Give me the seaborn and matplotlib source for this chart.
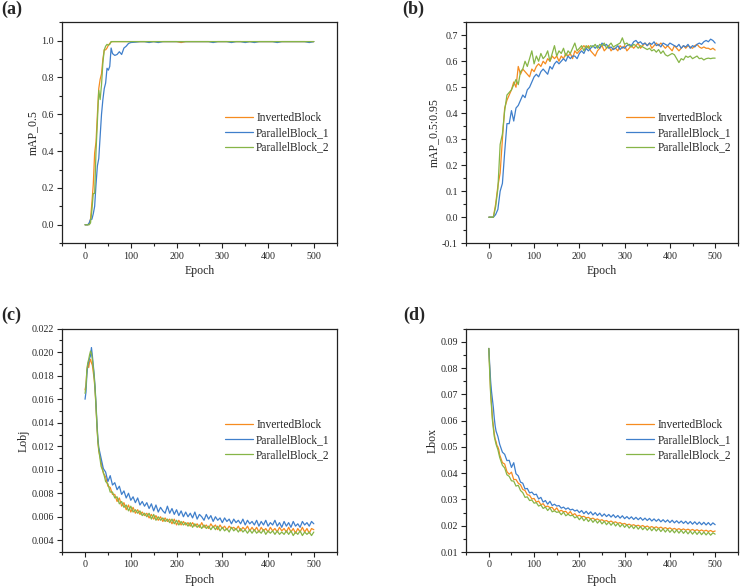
import numpy as np
import pandas as pd
import matplotlib
matplotlib.use('Agg')
import matplotlib.pyplot as plt
from matplotlib.ticker import MultipleLocator
import seaborn as sns

models = ["InvertedBlock", "ParallelBlock_1", "ParallelBlock_2"]
colors = {"InvertedBlock": "#F68B1F", "ParallelBlock_1": "#3F7FCB", "ParallelBlock_2": "#86B547"}

# ---- (a) mAP_0.5 ----
epochs_a = list(range(0, 61, 3)) + list(range(65, 101, 5)) + list(range(110, 501, 10))
map50_inv = [0, 0, 0, 0.005, 0.03, 0.12, 0.22, 0.39, 0.45, 0.60, 0.74, 0.79, 0.82, 0.90, 0.95, 0.95, 0.96, 0.975, 0.985, 0.993, 0.995,
             0.995, 0.995, 0.995, 0.995, 0.995, 0.995, 0.995, 0.995,
             0.995, 0.995, 0.995, 0.995, 0.995, 0.995, 0.995, 0.995, 0.995, 0.995, 0.99, 0.995, 0.995, 0.995, 0.995, 0.995, 0.995, 0.995, 0.995, 0.995,
             0.995, 0.995, 0.995, 0.995, 0.995, 0.995, 0.995, 0.995, 0.995, 0.995, 0.995, 0.995, 0.995, 0.995, 0.995, 0.995, 0.995, 0.995, 0.995, 0.995]
map50_p1 = [0, 0, 0, 0.01, 0.03, 0.03, 0.06, 0.10, 0.22, 0.32, 0.36, 0.48, 0.60, 0.68, 0.74, 0.77, 0.85, 0.84, 0.86, 0.96, 0.93,
            0.92, 0.925, 0.94, 0.925, 0.96, 0.97, 0.985, 0.99,
            0.992, 0.995, 0.995, 0.99, 0.995, 0.99, 0.995, 0.995, 0.995, 0.995, 0.995, 0.995, 0.995, 0.995, 0.995, 0.995, 0.995, 0.99, 0.995, 0.995,
            0.995, 0.99, 0.995, 0.995, 0.99, 0.995, 0.99, 0.995, 0.995, 0.995, 0.995, 0.99, 0.995, 0.995, 0.995, 0.995, 0.995, 0.995, 0.99, 0.995]
map50_p2 = [0, 0, 0, 0, 0.01, 0.08, 0.17, 0.17, 0.40, 0.56, 0.73, 0.68, 0.76, 0.88, 0.95, 0.97, 0.98, 0.975, 0.98, 0.995, 0.995,
            0.995, 0.995, 0.995, 0.995, 0.995, 0.995, 0.995, 0.995,
            0.995, 0.995, 0.995, 0.995, 0.995, 0.995, 0.995, 0.995, 0.995, 0.995, 0.995, 0.995, 0.995, 0.995, 0.995, 0.995, 0.995, 0.995, 0.995, 0.995,
            0.995, 0.995, 0.995, 0.995, 0.995, 0.995, 0.995, 0.995, 0.995, 0.995, 0.995, 0.995, 0.995, 0.995, 0.995, 0.995, 0.995, 0.995, 0.995, 0.995]

# ---- (b) mAP_0.5:0.95 ----
epochs_b = list(range(0, 501, 5))
map95_inv = [0, 0, 0, 0.05, 0.12, 0.17, 0.30, 0.42, 0.45, 0.47, 0.49, 0.52, 0.50, 0.58, 0.55, 0.57, 0.56, 0.55, 0.54, 0.57,
             0.56, 0.58, 0.59, 0.58, 0.60, 0.59, 0.61, 0.60, 0.62, 0.61, 0.62, 0.60, 0.62, 0.61, 0.63, 0.62, 0.63, 0.61, 0.64, 0.63,
             0.64, 0.65, 0.66, 0.65, 0.66, 0.64, 0.63, 0.62, 0.64, 0.65, 0.66, 0.64, 0.65, 0.66, 0.64, 0.65, 0.65, 0.64, 0.66, 0.65,
             0.66, 0.64, 0.65, 0.66, 0.65, 0.66, 0.67, 0.65, 0.66, 0.67, 0.66, 0.67, 0.65, 0.66, 0.67, 0.66, 0.67, 0.66, 0.65, 0.66,
             0.65, 0.64, 0.66, 0.65, 0.64, 0.65, 0.66, 0.65, 0.66, 0.655, 0.65, 0.66, 0.665, 0.655, 0.65, 0.655, 0.65, 0.65, 0.645, 0.65,
             0.643]
map95_p1 = [0, 0, 0, 0.01, 0.03, 0.10, 0.13, 0.25, 0.36, 0.36, 0.41, 0.37, 0.42, 0.43, 0.45, 0.47, 0.46, 0.49, 0.50, 0.52,
            0.54, 0.55, 0.54, 0.56, 0.57, 0.56, 0.55, 0.58, 0.57, 0.59, 0.60, 0.59, 0.60, 0.61, 0.60, 0.62, 0.61, 0.62, 0.62, 0.61,
            0.63, 0.64, 0.63, 0.65, 0.64, 0.65, 0.66, 0.65, 0.66, 0.65, 0.67, 0.66, 0.665, 0.65, 0.655, 0.645, 0.65, 0.66, 0.645, 0.655,
            0.65, 0.66, 0.665, 0.66, 0.675, 0.68, 0.67, 0.675, 0.665, 0.67, 0.66, 0.67, 0.665, 0.675, 0.66, 0.665, 0.655, 0.67, 0.665, 0.66,
            0.67, 0.665, 0.66, 0.655, 0.665, 0.65, 0.66, 0.655, 0.665, 0.65, 0.66, 0.655, 0.665, 0.67, 0.665, 0.675, 0.68, 0.675, 0.685, 0.68,
            0.67]
map95_p2 = [0, 0, 0, 0.04, 0.11, 0.28, 0.32, 0.41, 0.47, 0.48, 0.49, 0.51, 0.53, 0.51, 0.56, 0.57, 0.60, 0.58, 0.61, 0.64,
            0.59, 0.62, 0.60, 0.63, 0.61, 0.62, 0.64, 0.60, 0.63, 0.66, 0.62, 0.64, 0.63, 0.65, 0.62, 0.64, 0.63, 0.65, 0.67, 0.64,
            0.65, 0.66, 0.64, 0.66, 0.65, 0.66, 0.655, 0.665, 0.65, 0.665, 0.66, 0.67, 0.65, 0.66, 0.67, 0.655, 0.66, 0.665, 0.67, 0.69,
            0.665, 0.67, 0.66, 0.655, 0.665, 0.66, 0.65, 0.66, 0.655, 0.65, 0.645, 0.65, 0.64, 0.645, 0.635, 0.645, 0.63, 0.64, 0.625, 0.62,
            0.625, 0.63, 0.625, 0.61, 0.595, 0.61, 0.605, 0.62, 0.615, 0.62, 0.61, 0.615, 0.62, 0.61, 0.612, 0.605, 0.61, 0.612, 0.61, 0.612,
            0.612]

# ---- (c) Lobj and (d) Lbox ----
epochs_cd = list(range(0, 31, 2)) + list(range(35, 501, 5))
lobj_inv = [0.0168, 0.0172, 0.0184, 0.0190, 0.0187, 0.0192, 0.0194, 0.0191, 0.0189, 0.0183, 0.0177, 0.0167, 0.0153, 0.0137, 0.0124, 0.0116,
            0.0107, 0.0097, 0.0094, 0.0086, 0.0085, 0.0079, 0.0079, 0.0073, 0.0076, 0.0069,
            0.0072, 0.0066, 0.0070, 0.0064, 0.0068, 0.0063, 0.0066, 0.0062, 0.0064, 0.0061,
            0.0063, 0.0059, 0.0062, 0.0058, 0.0061, 0.0057, 0.0060, 0.0056, 0.0059, 0.0056,
            0.0058, 0.0054, 0.0058, 0.0053, 0.0057, 0.0053, 0.0056, 0.0053, 0.0055, 0.0052,
            0.0055, 0.0052, 0.0054, 0.0051, 0.0055, 0.0051, 0.0053, 0.0050, 0.0054, 0.0051,
            0.0053, 0.0049, 0.0053, 0.0050, 0.0052, 0.0049, 0.0052, 0.0050, 0.0051, 0.0049,
            0.0052, 0.0048, 0.0051, 0.0049, 0.0052, 0.0048, 0.0051, 0.0048, 0.0051, 0.0047,
            0.0051, 0.0048, 0.0050, 0.0047, 0.0051, 0.0048, 0.0050, 0.0047, 0.0051, 0.0048,
            0.0050, 0.0047, 0.0051, 0.0047, 0.0050, 0.0046, 0.0050, 0.0047, 0.0051, 0.0047,
            0.0050, 0.0046, 0.0050, 0.0049]
lobj_p1 = [0.0160, 0.0166, 0.0181, 0.0189, 0.0192, 0.0195, 0.0197, 0.0204, 0.0197, 0.0189, 0.0181, 0.0170, 0.0156, 0.0140, 0.0127, 0.0119,
           0.0110, 0.0101, 0.0098, 0.0090, 0.0095, 0.0087, 0.0089, 0.0083, 0.0086, 0.0079,
           0.0082, 0.0076, 0.0080, 0.0074, 0.0077, 0.0072, 0.0076, 0.0070, 0.0073, 0.0069,
           0.0072, 0.0067, 0.0071, 0.0065, 0.0070, 0.0064, 0.0068, 0.0065, 0.0063, 0.0069,
           0.0063, 0.0067, 0.0062, 0.0066, 0.0061, 0.0065, 0.0060, 0.0064, 0.0060, 0.0063,
           0.0059, 0.0064, 0.0058, 0.0062, 0.0060, 0.0057, 0.0062, 0.0058, 0.0061, 0.0056,
           0.0060, 0.0057, 0.0059, 0.0055, 0.0059, 0.0056, 0.0058, 0.0054, 0.0058, 0.0055,
           0.0057, 0.0054, 0.0058, 0.0053, 0.0057, 0.0054, 0.0056, 0.0053, 0.0057, 0.0052,
           0.0056, 0.0053, 0.0057, 0.0052, 0.0055, 0.0053, 0.0057, 0.0052, 0.0055, 0.0051,
           0.0056, 0.0052, 0.0055, 0.0051, 0.0056, 0.0052, 0.0054, 0.0051, 0.0056, 0.0053,
           0.0055, 0.0052, 0.0056, 0.0054]
lobj_p2 = [0.0165, 0.0170, 0.0185, 0.0191, 0.0194, 0.0198, 0.0201, 0.0199, 0.0194, 0.0187, 0.0179, 0.0168, 0.0154, 0.0138, 0.0125, 0.0117,
           0.0103, 0.0098, 0.0090, 0.0088, 0.0081, 0.0081, 0.0076, 0.0077, 0.0071, 0.0073,
           0.0068, 0.0070, 0.0065, 0.0069, 0.0064, 0.0066, 0.0063, 0.0065, 0.0061, 0.0063,
           0.0060, 0.0063, 0.0058, 0.0062, 0.0057, 0.0060, 0.0057, 0.0059, 0.0056, 0.0058,
           0.0055, 0.0058, 0.0054, 0.0057, 0.0053, 0.0056, 0.0053, 0.0055, 0.0052, 0.0055,
           0.0051, 0.0054, 0.0051, 0.0053, 0.0050, 0.0053, 0.0050, 0.0052, 0.0049, 0.0052,
           0.0049, 0.0052, 0.0048, 0.0051, 0.0048, 0.0050, 0.0047, 0.0051, 0.0048, 0.0050,
           0.0047, 0.0050, 0.0047, 0.0049, 0.0046, 0.0049, 0.0046, 0.0049, 0.0046, 0.0048,
           0.0046, 0.0049, 0.0045, 0.0048, 0.0046, 0.0048, 0.0045, 0.0048, 0.0045, 0.0047,
           0.0045, 0.0048, 0.0045, 0.0048, 0.0044, 0.0047, 0.0045, 0.0048, 0.0044, 0.0047,
           0.0045, 0.0047, 0.0044, 0.0047]

lbox_inv = [0.0875, 0.079, 0.071, 0.066, 0.061, 0.058, 0.055, 0.053, 0.052, 0.0505, 0.050, 0.049, 0.047, 0.046, 0.045, 0.044,
            0.0435, 0.0406, 0.0396, 0.0404, 0.0376, 0.0376, 0.0362, 0.0356, 0.0338, 0.0334,
            0.0318, 0.0316, 0.0302, 0.0304, 0.0290, 0.0294, 0.0280, 0.0284, 0.0272, 0.0275,
            0.0269, 0.0270, 0.0258, 0.0268, 0.0254, 0.0259, 0.0253, 0.0255, 0.0245, 0.0254,
            0.0241, 0.0246, 0.0236, 0.0240, 0.0234, 0.0236, 0.0230, 0.0232, 0.0226, 0.0229,
            0.0223, 0.0226, 0.0220, 0.0223, 0.0217, 0.0220, 0.0214, 0.0218, 0.0212, 0.0215,
            0.0209, 0.0212, 0.0206, 0.0209, 0.0203, 0.0206, 0.0201, 0.0204, 0.0199, 0.0202,
            0.0197, 0.0201, 0.0195, 0.0199, 0.0193, 0.0197, 0.0192, 0.0196, 0.0190, 0.0195,
            0.0189, 0.0193, 0.0188, 0.0192, 0.0186, 0.0190, 0.0185, 0.0189, 0.0184, 0.0188,
            0.0183, 0.0187, 0.0182, 0.0186, 0.0181, 0.0185, 0.0180, 0.0184, 0.0179, 0.0183,
            0.0178, 0.0182, 0.0177, 0.0180]
lbox_p1 = [0.0875, 0.081, 0.075, 0.071, 0.068, 0.065, 0.061, 0.058, 0.056, 0.055, 0.054, 0.0525, 0.051, 0.050, 0.049, 0.048,
           0.0472, 0.0448, 0.0449, 0.0422, 0.0440, 0.0398, 0.0390, 0.0366, 0.0362, 0.0340,
           0.0342, 0.0325, 0.0328, 0.0318, 0.0320, 0.0302, 0.0308, 0.0290, 0.0296, 0.0282,
           0.0293, 0.0277, 0.0282, 0.0275, 0.0277, 0.0267, 0.0271, 0.0263, 0.0268, 0.0260,
           0.0263, 0.0256, 0.0260, 0.0250, 0.0258, 0.0246, 0.0255, 0.0244, 0.0253, 0.0241,
           0.0250, 0.0239, 0.0248, 0.0236, 0.0245, 0.0235, 0.0243, 0.0233, 0.0242, 0.0231,
           0.0239, 0.0229, 0.0238, 0.0227, 0.0235, 0.0226, 0.0234, 0.0224, 0.0232, 0.0223,
           0.0231, 0.0221, 0.0229, 0.0220, 0.0228, 0.0218, 0.0226, 0.0217, 0.0225, 0.0215,
           0.0223, 0.0214, 0.0222, 0.0212, 0.0221, 0.0211, 0.0219, 0.0210, 0.0218, 0.0209,
           0.0217, 0.0207, 0.0216, 0.0206, 0.0215, 0.0205, 0.0214, 0.0204, 0.0213, 0.0203,
           0.0212, 0.0202, 0.0211, 0.0204]
lbox_p2 = [0.0875, 0.078, 0.070, 0.065, 0.060, 0.057, 0.054, 0.0525, 0.051, 0.050, 0.049, 0.0475, 0.046, 0.045, 0.044, 0.043,
           0.0420, 0.0394, 0.0388, 0.0371, 0.0370, 0.0351, 0.0354, 0.0334, 0.0326, 0.0308,
           0.0310, 0.0296, 0.0298, 0.0286, 0.0288, 0.0275, 0.0279, 0.0266, 0.0271, 0.0258,
           0.0268, 0.0253, 0.0257, 0.0251, 0.0253, 0.0242, 0.0252, 0.0238, 0.0244, 0.0238,
           0.0240, 0.0230, 0.0235, 0.0223, 0.0233, 0.0219, 0.0229, 0.0216, 0.0226, 0.0213,
           0.0223, 0.0210, 0.0220, 0.0207, 0.0217, 0.0204, 0.0214, 0.0202, 0.0212, 0.0199,
           0.0209, 0.0196, 0.0206, 0.0194, 0.0204, 0.0191, 0.0201, 0.0189, 0.0200, 0.0187,
           0.0197, 0.0185, 0.0195, 0.0183, 0.0193, 0.0181, 0.0192, 0.0180, 0.0190, 0.0178,
           0.0188, 0.0176, 0.0187, 0.0175, 0.0185, 0.0173, 0.0184, 0.0172, 0.0183, 0.0171,
           0.0181, 0.0169, 0.0180, 0.0168, 0.0179, 0.0167, 0.0178, 0.0166, 0.0176, 0.0165,
           0.0175, 0.0164, 0.0173, 0.0168]


def long_df(epochs, series):
    frames = []
    for name, vals in zip(models, series):
        frames.append(pd.DataFrame({"Epoch": epochs, "value": vals, "Model": name}))
    return pd.concat(frames, ignore_index=True)


sns.set_style("ticks")
plt.rcParams['font.family'] = ['Liberation Serif', 'DejaVu Serif']
plt.rcParams['axes.linewidth'] = 0.9
plt.rcParams['axes.edgecolor'] = '#222222'

fig = plt.figure(figsize=(7.4, 5.86), dpi=100)

panels = [
    ("(a)", [0.084, 0.585, 0.371, 0.377], epochs_a, [map50_inv, map50_p1, map50_p2], "mAP_0.5",
     (-0.1, 1.1), 0.2, 0.1, "%.1f", (0.002, 0.998)),
    ("(b)", [0.630, 0.585, 0.367, 0.377], epochs_b, [map95_inv, map95_p1, map95_p2], "mAP_0.5:0.95",
     (-0.1, 0.75), 0.1, 0.05, "%.1f", (0.543, 0.998)),
    ("(c)", [0.084, 0.058, 0.371, 0.381], epochs_cd, [lobj_inv, lobj_p1, lobj_p2], "Lobj",
     (0.003, 0.022), 0.002, 0.001, "%.3f", (0.002, 0.477)),
    ("(d)", [0.630, 0.058, 0.367, 0.381], epochs_cd, [lbox_inv, lbox_p1, lbox_p2], "Lbox",
     (0.01, 0.095), 0.01, 0.005, "%.2f", (0.545, 0.477)),
]

for tag, pos, ep, series, ylab, ylim, major, minor, fmt, tagpos in panels:
    ax = fig.add_axes(pos)
    df = long_df(ep, series)
    sns.lineplot(data=df, x="Epoch", y="value", hue="Model", palette=colors,
                 linewidth=0.9, ax=ax)
    ax.set_xlim(-50, 550)
    ax.set_ylim(*ylim)
    ax.xaxis.set_major_locator(MultipleLocator(100))
    ax.xaxis.set_minor_locator(MultipleLocator(50))
    ax.yaxis.set_major_locator(MultipleLocator(major))
    ax.yaxis.set_minor_locator(MultipleLocator(minor))
    ax.yaxis.set_major_formatter(matplotlib.ticker.FormatStrFormatter(fmt))
    ax.tick_params(which='both', direction='out', top=False, right=False,
                   labelsize=7.2, width=0.8, color='#222222', pad=2.5)
    ax.tick_params(which='major', length=3.5)
    ax.tick_params(which='minor', length=2)
    ax.set_xlabel("Epoch", fontsize=8.5, labelpad=3)
    ax.set_ylabel(ylab, fontsize=8.5, labelpad=1.5)
    for s in ax.spines.values():
        s.set_visible(True)
    sns.move_legend(ax, "center right", title=None, frameon=False, fontsize=8.3,
                    handlelength=2.4, handletextpad=0.3, labelspacing=0.25,
                    borderaxespad=0.2)
    fig.text(tagpos[0], tagpos[1], tag, fontsize=13, fontweight='bold',
             va='top', ha='left')

fig.savefig("out.png", dpi=100)
